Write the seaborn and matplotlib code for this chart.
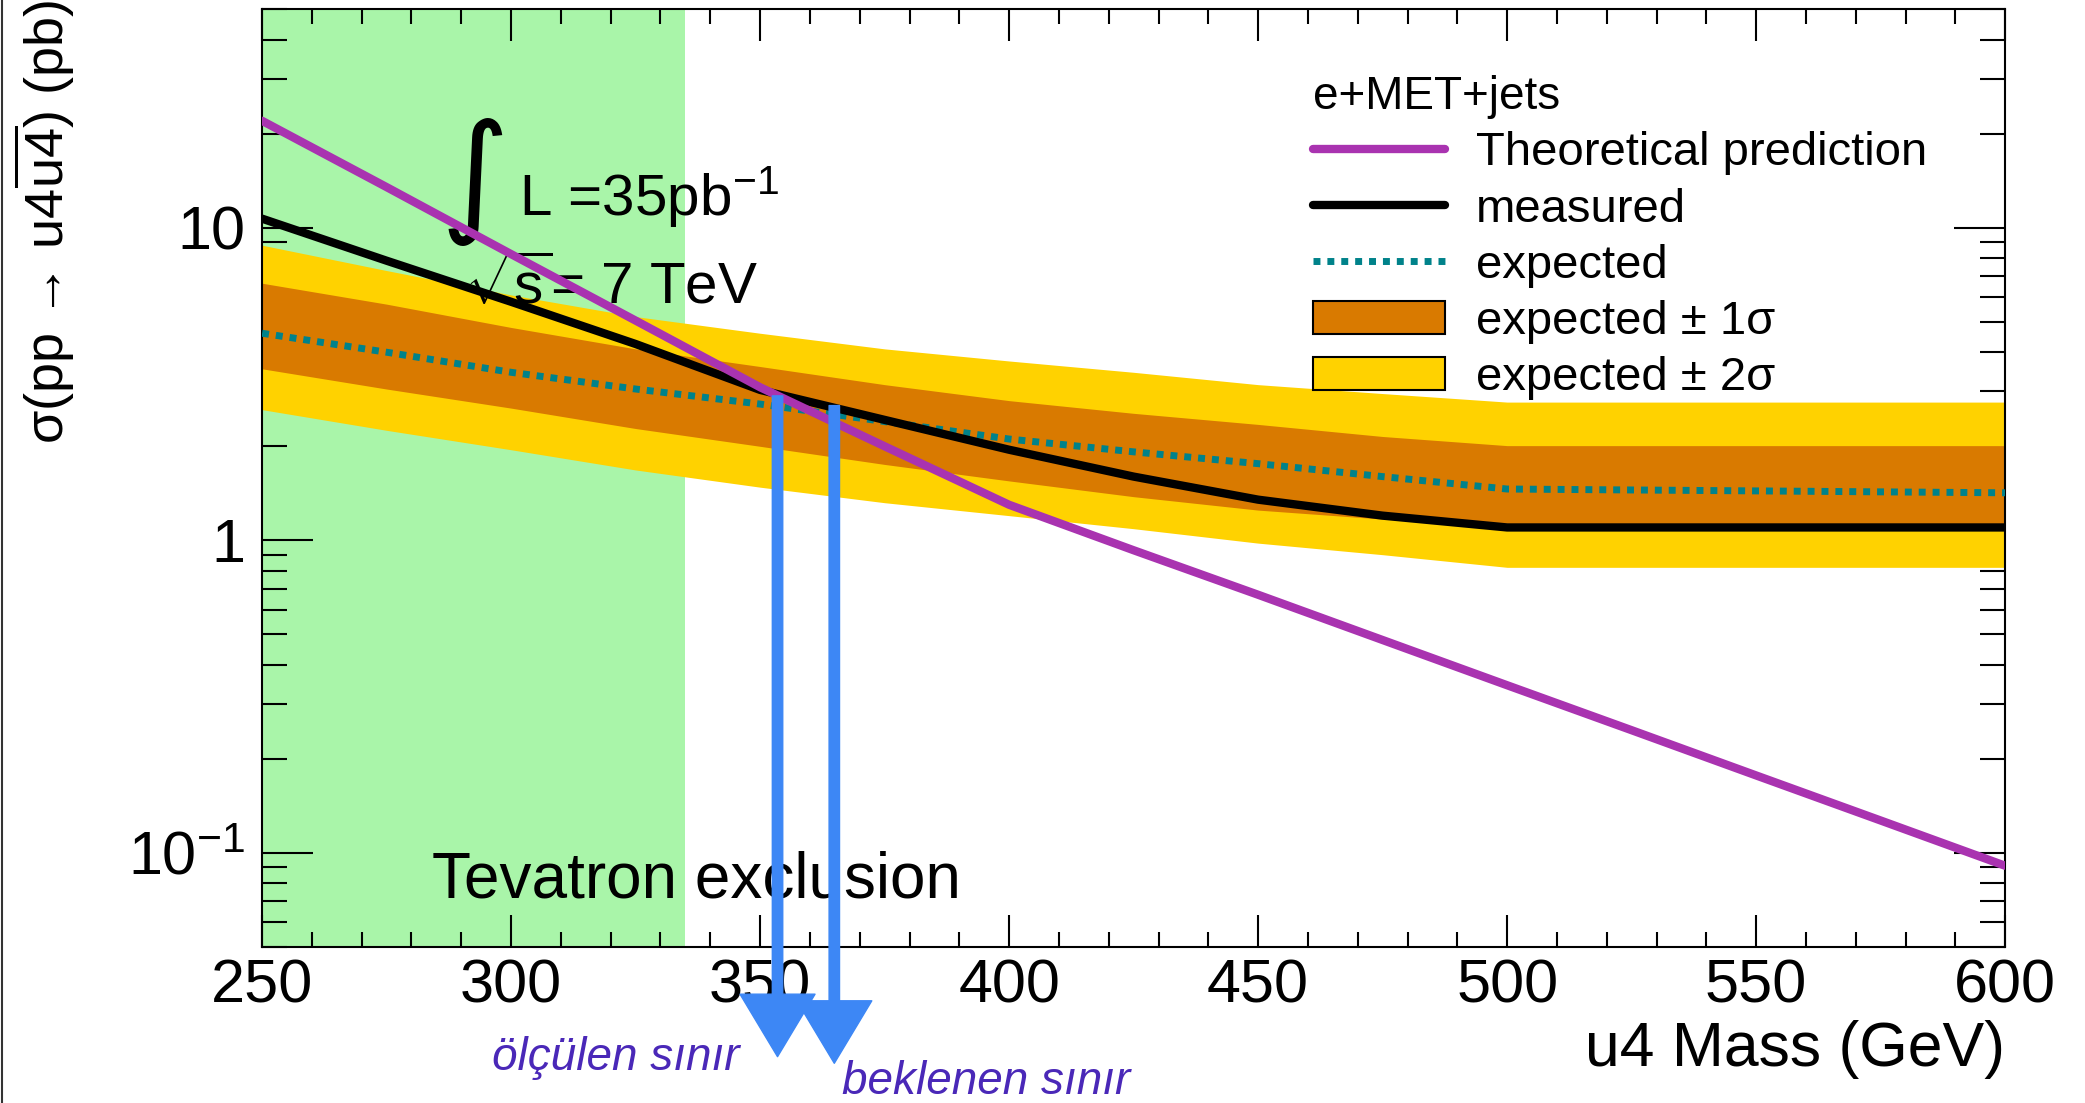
import numpy as np
import pandas as pd
import matplotlib
matplotlib.use('Agg')
import matplotlib.pyplot as plt
import seaborn as sns
from matplotlib.lines import Line2D
from matplotlib.patches import Patch
from matplotlib.ticker import MultipleLocator, LogLocator, NullFormatter

#%% data
mass = [250, 275, 300, 325, 350, 375, 400, 425, 450, 475, 500, 550, 600]
measured = [10.7, 7.85, 5.8, 4.25, 3.03, 2.43, 1.95, 1.6, 1.35, 1.2, 1.1, 1.1, 1.1]
expected = [4.6, 4.0, 3.45, 3.05, 2.73, 2.4, 2.11, 1.92, 1.76, 1.6, 1.46, 1.44, 1.42]
band1_lo = [3.54, 3.05, 2.65, 2.28, 2.0, 1.75, 1.55, 1.38, 1.25, 1.17, 1.12, 1.12, 1.12]
band1_hi = [6.65, 5.7, 4.8, 4.1, 3.6, 3.15, 2.8, 2.55, 2.35, 2.15, 2.01, 2.01, 2.01]
band2_lo = [2.62, 2.25, 1.95, 1.68, 1.48, 1.32, 1.2, 1.09, 0.98, 0.9, 0.82, 0.82, 0.82]
band2_hi = [8.8, 7.3, 6.1, 5.2, 4.6, 4.1, 3.75, 3.45, 3.15, 2.95, 2.77, 2.77, 2.77]

theory_mass = [250, 275, 300, 325, 350, 375, 400, 425, 450, 475, 500, 525, 550, 575, 600]
theory = [22.0, 13.5, 8.24, 5.05, 3.09, 2.0, 1.3, 0.93, 0.67, 0.48, 0.344, 0.247, 0.177, 0.127, 0.091]

tevatron_limit = 335
limit_measured = 353.5   # strelica: measured x theory
limit_expected = 364.9   # strelica: expected x theory

legend_labels = ['Theoretical prediction', 'measured', 'expected',
                 'expected ± 1σ', 'expected ± 2σ']

#%% stil
sns.set_theme(style='ticks')
plt.rcParams['font.family'] = ['Liberation Sans', 'DejaVu Sans']
plt.rcParams['mathtext.fontset'] = 'custom'
plt.rcParams['mathtext.rm'] = 'Liberation Sans'
plt.rcParams['mathtext.it'] = 'Liberation Sans:italic'
plt.rcParams['mathtext.bf'] = 'Liberation Sans:bold'
plt.rcParams['text.color'] = 'black'
plt.rcParams['axes.labelcolor'] = 'black'
plt.rcParams['xtick.color'] = 'black'
plt.rcParams['ytick.color'] = 'black'

c_green = '#a9f5a9'
c_2s = '#ffd200'
c_1s = '#d97a00'
c_theory = '#a933b0'
c_exp = '#00828a'
c_arrow = '#3d87f5'
c_note = '#4a28b8'

df = pd.DataFrame({'mass': mass, 'measured': measured, 'expected': expected,
                   'b1lo': band1_lo, 'b1hi': band1_hi, 'b2lo': band2_lo, 'b2hi': band2_hi})
df_th = pd.DataFrame({'mass': theory_mass, 'theory': theory})

fig, ax = plt.subplots(figsize=(20.85, 11.03), dpi=100)
fig.subplots_adjust(left=0.1257, right=0.9617, top=0.9915, bottom=0.1414)

ax.axvspan(250, tevatron_limit, color=c_green, lw=0, zorder=0)
ax.fill_between(df['mass'], df['b2lo'], df['b2hi'], color=c_2s, lw=0, zorder=1)
ax.fill_between(df['mass'], df['b1lo'], df['b1hi'], color=c_1s, lw=0, zorder=2)

sns.lineplot(data=df, x='mass', y='expected', ax=ax, color=c_exp, lw=5,
             linestyle=(0, (1, 1)), zorder=3)
sns.lineplot(data=df, x='mass', y='measured', ax=ax, color='black', lw=6, zorder=4)
sns.lineplot(data=df_th, x='mass', y='theory', ax=ax, color=c_theory, lw=6, zorder=5)

ax.set_yscale('log')
ax.set_xlim(250, 600)
ax.set_ylim(0.05, 50)

# osovine u ROOT stilu
ax.xaxis.set_major_locator(MultipleLocator(50))
ax.xaxis.set_minor_locator(MultipleLocator(10))
ax.set_yticks([0.1, 1, 10], labels=[r'$\mathregular{10^{-1}}$', '1', '10'])
ax.yaxis.set_minor_locator(LogLocator(subs=np.arange(2, 10)))
ax.yaxis.set_minor_formatter(NullFormatter())
ax.tick_params(which='both', direction='in', top=True, right=True, width=1.5, color='black')
ax.tick_params(axis='x', which='major', length=23, labelsize=44, pad=8)
ax.tick_params(axis='x', which='minor', length=11)
ax.tick_params(axis='y', which='major', length=37, labelsize=44, pad=12)
ax.tick_params(axis='y', which='minor', length=18)
for s in ax.spines.values():
    s.set_color('black')
    s.set_linewidth(1.5)
ax.grid(False)

ax.set_xlabel('u4 Mass (GeV)', loc='right', fontsize=45)
ax.xaxis.set_label_coords(1.0, -0.078)
ax.set_ylabel(r'σ(pp → $\mathregular{u4\overline{u4}}$) (pb)', loc='top', fontsize=39)
ax.yaxis.set_label_coords(-0.106, 1.01)

# tekstovi na grafiku
ax.text(292.7, 14, '∫', fontsize=95, ha='center', va='center', family='DejaVu Sans')
ax.text(301.5, 11.0, r'L =35pb$^{\mathregular{-1}}$', fontsize=42, va='baseline')
ax.text(290.8, 5.7, r'$\mathregular{\sqrt{s}}$= 7 TeV', fontsize=42, va='baseline')
ax.text(284.2, 0.072, 'Tevatron exclusion', fontsize=46, va='baseline')

handles = [Line2D([], [], color=c_theory, lw=6),
           Line2D([], [], color='black', lw=6),
           Line2D([], [], color=c_exp, lw=5, ls=(0, (1, 1))),
           Patch(facecolor=c_1s, edgecolor='black', lw=1.5),
           Patch(facecolor=c_2s, edgecolor='black', lw=1.5)]
ax.legend(handles, legend_labels, title='e+MET+jets', loc='upper left',
          bbox_to_anchor=(0.603, 0.93), frameon=False, fontsize=34, title_fontsize=33,
          alignment='left', handlelength=2.8, handletextpad=0.65, labelspacing=0.26,
          borderpad=0, borderaxespad=0)

# strelice za granice
arrow_kw = dict(facecolor=c_arrow, edgecolor=c_arrow, width=7.5, headwidth=54,
                headlength=45, shrink=0)
ax.annotate('', xy=(limit_measured, 0.042), xycoords=('data', 'figure fraction'),
            xytext=(limit_measured, 2.9), textcoords='data',
            arrowprops=arrow_kw, annotation_clip=False, zorder=10)
ax.annotate('', xy=(limit_expected, 0.036), xycoords=('data', 'figure fraction'),
            xytext=(limit_expected, 2.7), textcoords='data',
            arrowprops=arrow_kw, annotation_clip=False, zorder=10)
fig.text(0.236, 0.030, 'ölçülen sınır', fontsize=33, style='italic', color=c_note)
fig.text(0.404, 0.008, 'beklenen sınır', fontsize=33, style='italic', color=c_note)

fig.add_artist(Line2D([0.0008, 0.0008], [0, 1], color='#333333', lw=1.5))

plt.savefig('out.png', dpi=100)
